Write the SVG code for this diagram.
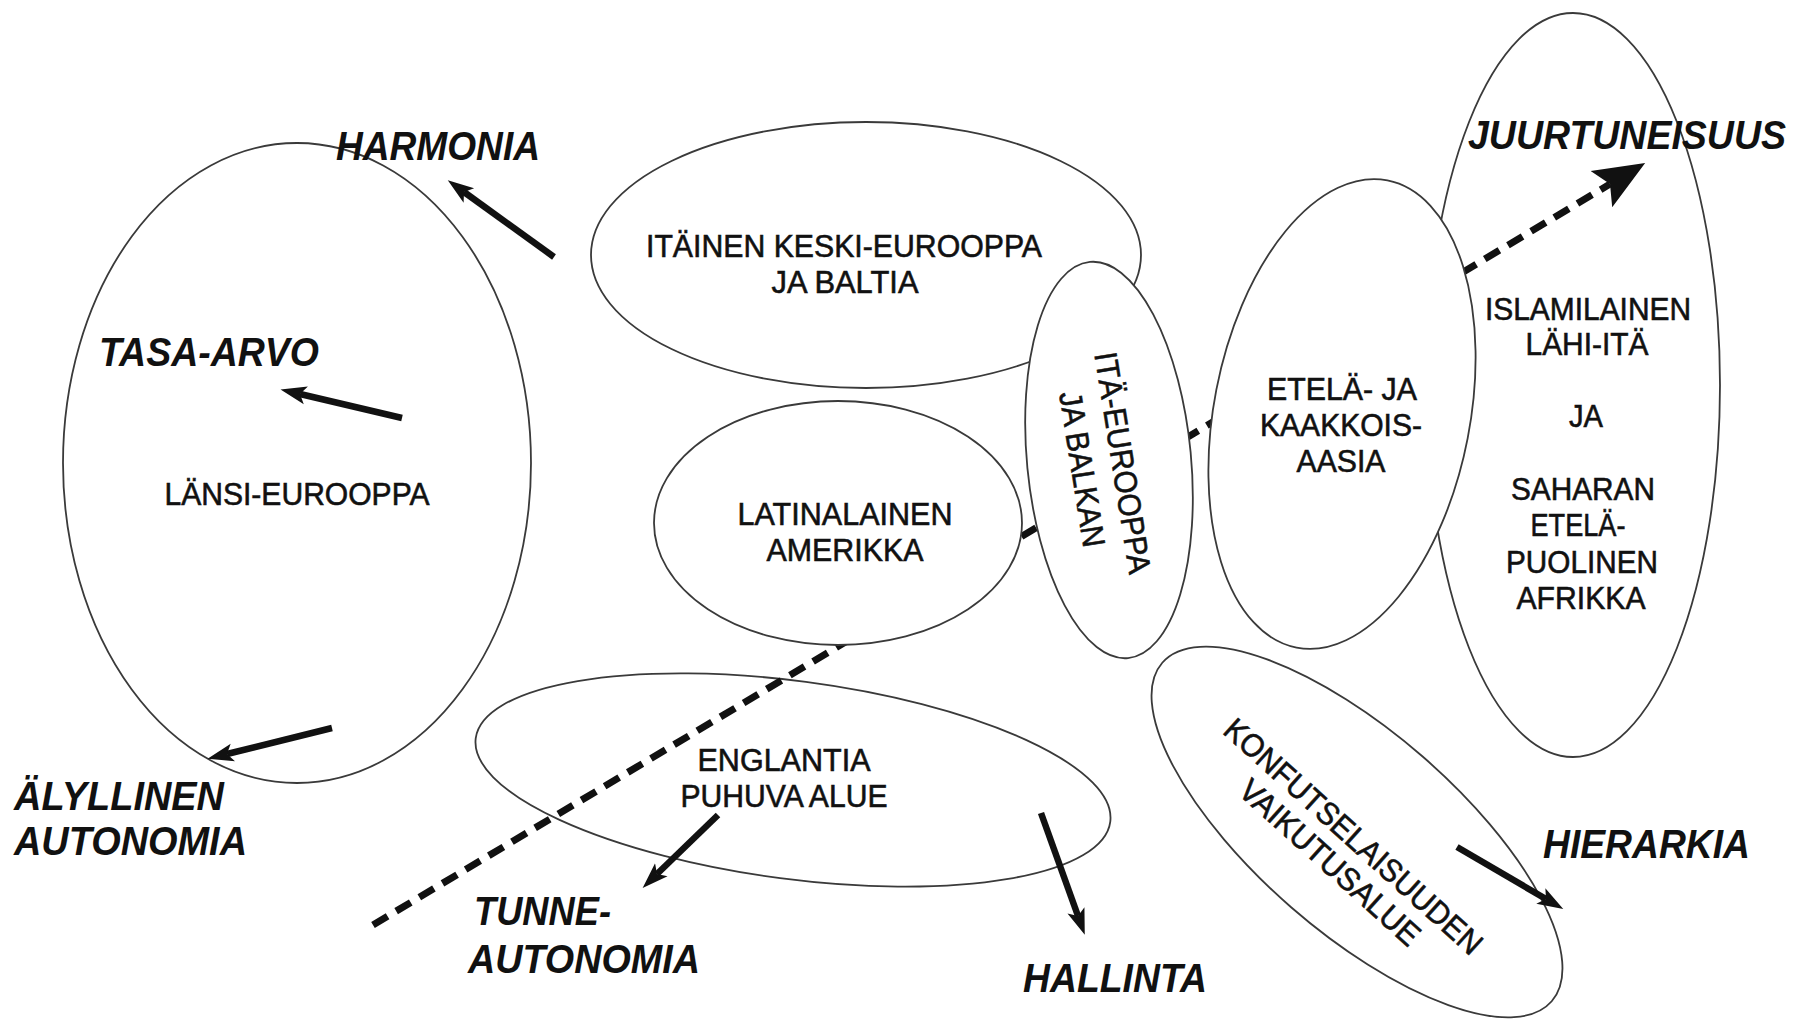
<svg xmlns="http://www.w3.org/2000/svg" width="1800" height="1021" viewBox="0 0 1800 1021">
<style>
.n{fill:#fff;stroke:#3a3a3a;stroke-width:1.8}
.t{font-family:"Liberation Sans",Arial,sans-serif;font-size:32px;fill:#111;stroke:#111;stroke-width:0.6;text-anchor:middle}
.l{font-family:"Liberation Sans",Arial,sans-serif;font-size:40px;font-weight:bold;font-style:italic;fill:#111}
.a{stroke:#111;stroke-width:6.5;fill:none;marker-end:url(#ah)}
.d{stroke:#111;stroke-width:7;stroke-dasharray:17 10;fill:none}
</style>
<defs>
<marker id="ah" markerUnits="userSpaceOnUse" markerWidth="30" markerHeight="24" viewBox="0 -12 30 24" refX="6" refY="0" orient="auto">
<path d="M0,-9 L26,0 L0,9 L6,0 Z" fill="#111"/>
</marker>
<marker id="bh" markerUnits="userSpaceOnUse" markerWidth="56" markerHeight="50" viewBox="0 -25 56 50" refX="10" refY="0" orient="auto">
<path d="M0,-21 L51,0 L0,21 L10,0 Z" fill="#111"/>
</marker>
</defs>
<rect width="1800" height="1021" fill="#fff"/>

<g id="lansi-eurooppa">
<ellipse class="n" cx="297" cy="463" rx="234" ry="320"/>
<text class="t" x="297" y="505" textLength="265" lengthAdjust="spacingAndGlyphs">LÄNSI-EUROOPPA</text>
</g>

<g id="itainen-keski-eurooppa">
<ellipse class="n" cx="866" cy="255" rx="275" ry="133"/>
<text class="t" x="844" y="257" textLength="396" lengthAdjust="spacingAndGlyphs">ITÄINEN KESKI-EUROOPPA</text>
<text class="t" x="845" y="293" textLength="147" lengthAdjust="spacingAndGlyphs">JA BALTIA</text>
</g>

<g id="englantia-puhuva">
<ellipse class="n" cx="793" cy="780" rx="320" ry="99" transform="rotate(7.5 793 780)"/>
<text class="t" x="784" y="771" textLength="173" lengthAdjust="spacingAndGlyphs">ENGLANTIA</text>
<text class="t" x="784" y="807" textLength="207" lengthAdjust="spacingAndGlyphs">PUHUVA ALUE</text>
</g>

<g id="islamilainen">
<ellipse class="n" cx="1573" cy="385" rx="147" ry="372"/>
<text class="t" x="1588" y="320" textLength="206" lengthAdjust="spacingAndGlyphs">ISLAMILAINEN</text>
<text class="t" x="1587" y="355" textLength="123" lengthAdjust="spacingAndGlyphs">LÄHI-ITÄ</text>
<text class="t" x="1586" y="427" textLength="34" lengthAdjust="spacingAndGlyphs">JA</text>
<text class="t" x="1583" y="500" textLength="144" lengthAdjust="spacingAndGlyphs">SAHARAN</text>
<text class="t" x="1578" y="536" textLength="95" lengthAdjust="spacingAndGlyphs">ETELÄ-</text>
<text class="t" x="1582" y="573" textLength="152" lengthAdjust="spacingAndGlyphs">PUOLINEN</text>
<text class="t" x="1581" y="609" textLength="129" lengthAdjust="spacingAndGlyphs">AFRIKKA</text>
</g>

<g id="konfutse">
<ellipse class="n" cx="1357" cy="832" rx="258" ry="100" transform="rotate(41 1357 832)"/>
<g transform="translate(1342 849) rotate(42)">
<text class="t" x="0" y="-6" textLength="335" lengthAdjust="spacingAndGlyphs">KONFUTSELAISUUDEN</text>
<text class="t" x="0" y="29" textLength="231" lengthAdjust="spacingAndGlyphs">VAIKUTUSALUE</text>
</g>
</g>

<g id="connectors">
<path class="d" d="M373,925 L1610,184" marker-end="url(#bh)"/>
<line class="a" x1="554" y1="257" x2="464" y2="192"/>
<line class="a" x1="402" y1="418" x2="300" y2="394"/>
<line class="a" x1="332" y1="728" x2="227" y2="754"/>
<line class="a" x1="718" y1="815" x2="657" y2="874"/>
<line class="a" x1="1041" y1="813" x2="1078" y2="916"/>
<line class="a" x1="1457" y1="847" x2="1546" y2="899"/>
</g>

<g id="latinalainen-amerikka">
<ellipse class="n" cx="838" cy="523" rx="184" ry="122"/>
<text class="t" x="845" y="525" textLength="215" lengthAdjust="spacingAndGlyphs">LATINALAINEN</text>
<text class="t" x="845" y="561" textLength="157" lengthAdjust="spacingAndGlyphs">AMERIKKA</text>
</g>

<g id="ita-eurooppa">
<ellipse class="n" cx="1109" cy="460" rx="82" ry="199" transform="rotate(-5.5 1109 460)"/>
<g transform="translate(1103 466) rotate(81)">
<text class="t" x="0" y="-9" textLength="224" lengthAdjust="spacingAndGlyphs">ITÄ-EUROOPPA</text>
<text class="t" x="0" y="32" textLength="157" lengthAdjust="spacingAndGlyphs">JA BALKAN</text>
</g>
</g>

<g id="etela-aasia">
<ellipse class="n" cx="1342" cy="414" rx="128" ry="238" transform="rotate(11 1342 414)"/>
<text class="t" x="1342" y="400" textLength="150" lengthAdjust="spacingAndGlyphs">ETELÄ- JA</text>
<text class="t" x="1341" y="436" textLength="162" lengthAdjust="spacingAndGlyphs">KAAKKOIS-</text>
<text class="t" x="1341" y="472" textLength="89" lengthAdjust="spacingAndGlyphs">AASIA</text>
</g>

<g id="labels">
<text class="l" x="336" y="160" textLength="204" lengthAdjust="spacingAndGlyphs">HARMONIA</text>
<text class="l" x="99" y="366" textLength="220" lengthAdjust="spacingAndGlyphs">TASA-ARVO</text>
<text class="l" x="14" y="810" textLength="210" lengthAdjust="spacingAndGlyphs">ÄLYLLINEN</text>
<text class="l" x="14" y="855" textLength="233" lengthAdjust="spacingAndGlyphs">AUTONOMIA</text>
<text class="l" x="474" y="925" textLength="137" lengthAdjust="spacingAndGlyphs">TUNNE-</text>
<text class="l" x="468" y="973" textLength="232" lengthAdjust="spacingAndGlyphs">AUTONOMIA</text>
<text class="l" x="1023" y="992" textLength="184" lengthAdjust="spacingAndGlyphs">HALLINTA</text>
<text class="l" x="1543" y="858" textLength="207" lengthAdjust="spacingAndGlyphs">HIERARKIA</text>
<text class="l" x="1468" y="149" textLength="318" lengthAdjust="spacingAndGlyphs">JUURTUNEISUUS</text>
</g>
</svg>
